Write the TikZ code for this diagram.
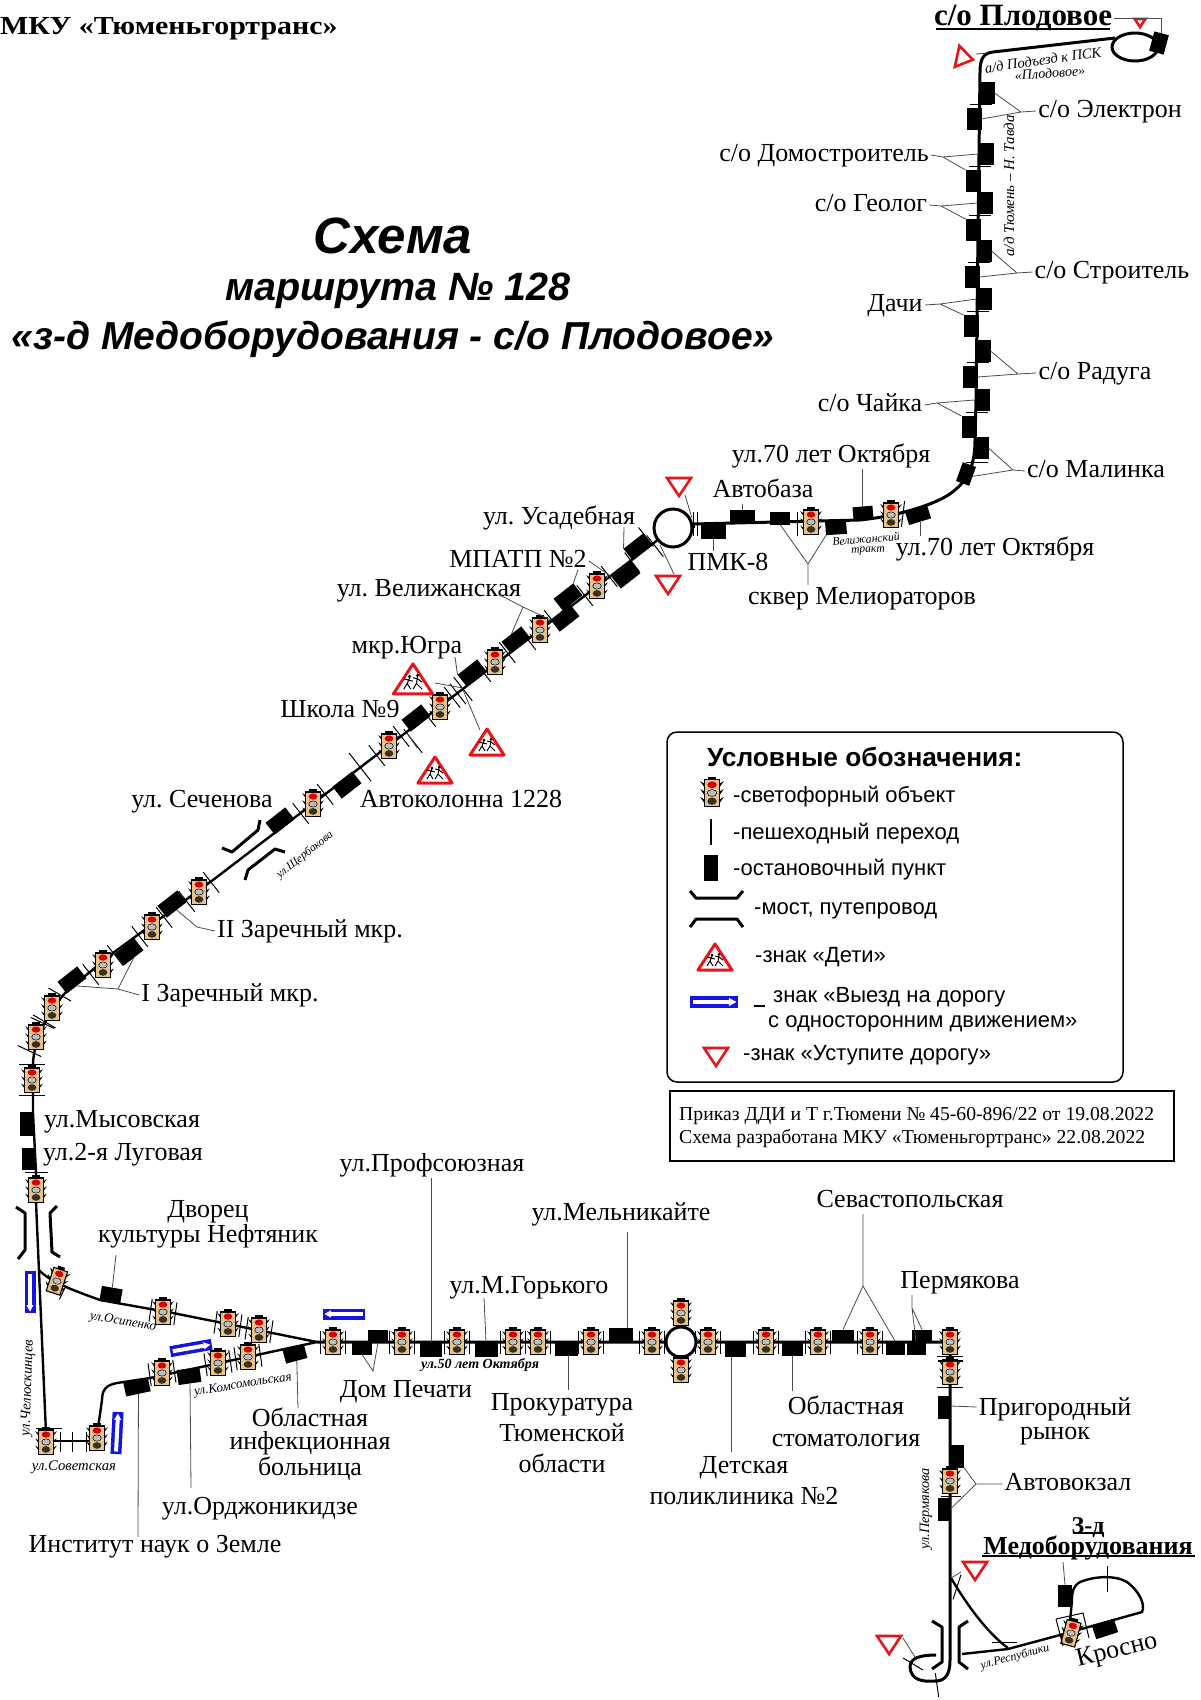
\documentclass[tikz,border=0pt]{standalone}
\usepackage{fontspec}
\setmainfont{Liberation Serif}
\setsansfont{Liberation Sans}
\frenchspacing
\definecolor{tlbody}{HTML}{E6C28C}
\definecolor{lampgrey}{HTML}{B9BEC4}
\definecolor{lampdark}{HTML}{3A3020}
\definecolor{signred}{HTML}{E8141C}
\definecolor{signblue}{HTML}{1414E0}
\tikzset{
  road/.style={line width=3,line join=round},
  thinroad/.style={line width=2.4,line join=round},
  tick/.style={line width=1},
  bridge/.style={line width=3,line join=round},
  leader/.style={line width=.8,black!70},
  stopbox/.style={fill=black,inner sep=0,outer sep=0},
  lab/.style={font=\fontsize{26}{28}\selectfont,inner sep=2pt,text height=17,text depth=5},
  mlab/.style={inner sep=2pt,align=center},
  legtext/.style={font=\sffamily\fontsize{22}{26}\selectfont,anchor=west,inner sep=0,text height=15,text depth=5},
  tlplain/.pic={
    \begin{scope}[scale=1.2]
    \fill (-9,-9) -- (-5.5,-7) -- (-5.5,-4) -- cycle;
    \fill (9,-9) -- (5.5,-7) -- (5.5,-4) -- cycle;
    \fill (-9,-3) -- (-5.5,-1) -- (-5.5,2) -- cycle;
    \fill (9,-3) -- (5.5,-1) -- (5.5,2) -- cycle;
    \fill (-9,3) -- (-5.5,5) -- (-5.5,8) -- cycle;
    \fill (9,3) -- (5.5,5) -- (5.5,8) -- cycle;
    \fill (-3,-12.5) rectangle (3,-9);
    \draw[fill=tlbody,line width=1.1] (-6,-10) rectangle (6,10.5);
    \fill[red!85!black] (0,-6.2) ellipse [x radius=3.6pt,y radius=2.6pt];
    \fill[lampgrey] (0,0) ellipse [x radius=3.6pt,y radius=2.6pt];
    \draw[line width=.5] (0,0) ellipse [x radius=3.6pt,y radius=2.6pt];
    \fill[lampdark] (0,6.2) ellipse [x radius=3.6pt,y radius=2.8pt];
    \end{scope}
  },
  tla/.pic={
    \pic {tlplain};
    \draw[tick] (-13,-15.5) -- (13,-15.5);
    \draw[tick] (-13,15.5) -- (13,15.5);
  },
  tlb/.pic={
    \pic {tlplain};
    \draw[tick] (-12.5,-11.5) -- (-12.5,11.5);
    \draw[tick] (12.5,-11.5) -- (12.5,11.5);
  },
  yieldsign/.pic={
    \draw[signred,line width=2.6,fill=white,line join=miter] (-12,-9) -- (12,-9) -- (0,9) -- cycle;
  },
  childsign/.pic={
    \draw[signred,line width=3,fill=white,line join=round] (0,-14) -- (17,12) -- (-17,12) -- cycle;
    \fill (-3,-3) circle [radius=1.5pt];
    \fill (4,-4) circle [radius=1.5pt];
    \draw[line width=1] (-3,-2) -- (-5,3) -- (-8,8) (-5,3) -- (-2,8) (-4,0) -- (-8,-1) (-4,0) -- (0,1);
    \draw[line width=1] (4,-3) -- (3,3) -- (0,8) (3,3) -- (8,8) (4,-1) -- (0,-2) (4,-1) -- (8,2);
  },
  onewaysign/.pic={
    \fill[signblue] (-21,-5.5) rectangle (21,5.5);
    \fill[white] (-18.5,-2) rectangle (13,2);
    \fill[white] (13,-3.6) -- (19.5,0) -- (13,3.6) -- cycle;
  }
}
\newcommand\mkStop[6]{\node[stopbox,minimum width=#4pt,minimum height=#5pt,rotate=#6] (#1) at (#2,#3) {};}
\newcommand\mkTick[4]{\draw[tick,shift={(#1,#2)},rotate=#3] (-#4/2,0) -- (#4/2,0);}
\newcommand\mkLabel[4]{\node[lab] (#1) at (#2,#3) {#4};}
\newcommand\mkMulti[5]{\node[mlab,font=\fontsize{26}{#4}\selectfont] (#1) at (#2,#3) {#5};}
\newcommand\mkRoad[6]{\node[inner sep=0,font=\fontsize{#6}{#6}\selectfont\itshape,rotate=#4] (#1) at (#2,#3) {#5};}
\begin{document}
\begin{tikzpicture}[x=1pt,y=-1pt]
\useasboundingbox (0,0) rectangle (1200,1700);
\fill[white] (0,0) rectangle (1200,1700);

% --- junctions and rings
\coordinate (jK) at (317,1342);
\coordinate (jTop) at (1115,38);
\node[circle,draw,line width=3,minimum size=38,inner sep=0,fill=white] (ringA) at (673,528) {};

% --- roads
\draw[road] (jTop) -- (993,52) .. controls (984,53) and (980,58) .. (980,72) -- (976,400) -- (975,440) .. controls (975,470) and (965,485) .. (945,497) .. controls (925,508) and (890,517) .. (860,520) -- (693,524) -- (ringA.east);
\draw[thinroad] (ringA.218) -- (213,880) -- (113,953) -- (68,990) .. controls (50,1008) and (33,1040) .. (33,1065) -- (33,1113) -- (36,1172) -- (36,1190);
\draw[thinroad] (36,1202) -- (46,1433);
\draw[thinroad] (39,1270) .. controls (50,1282) and (75,1291) .. (100,1300) -- (173,1313) -- (jK);
\draw[thinroad] (jK) -- (150,1378) -- (117,1383) .. controls (106,1385) and (102,1390) .. (102,1400) -- (98,1428);
\draw[thinroad] (47,1441) -- (97,1441);
\draw[road] (jK) -- (950,1342) -- (950,1660) .. controls (950,1675) and (945,1681) .. (935,1681) .. controls (922,1682) and (911,1680) .. (910,1667) .. controls (910,1658) and (920,1655) .. (936,1655);
\draw[thinroad] (951,1578) .. controls (970,1610) and (990,1635) .. (1008,1648);
\draw[thinroad] (962,1654) -- (1008,1649) -- (1060,1635) -- (1142,1612) .. controls (1146,1604) and (1138,1590) .. (1127,1582) .. controls (1115,1575) and (1095,1576) .. (1080,1582) .. controls (1073,1586) and (1072,1592) .. (1072,1600) -- (1070,1622);
\draw[road] (1135,47) ellipse [x radius=23pt,y radius=14pt];
\node[circle,draw,line width=3,minimum size=30,inner sep=0,fill=white] (ringB) at (681,1342) {};

% --- bridges
\draw[bridge] (222,848) -- (232,852) -- (258,830) -- (260,820);
\draw[bridge] (245,880) -- (248,870) -- (275,849) -- (285,852);
\draw[bridge] (16,1207) -- (25,1213) -- (25,1250) -- (18,1259);
\draw[bridge] (57,1206) -- (50,1213) -- (52,1252) -- (60,1257);
\draw[bridge] (932,1621) -- (942,1627) -- (942,1662) -- (932,1669);
\draw[bridge] (968,1621) -- (959,1627) -- (959,1662) -- (968,1669);

% --- stops: upper section
\mkStop{sPl}{1159}{43}{15}{20}{-15}
\mkStop{sA}{987}{93}{15}{22}{0}
\mkStop{sB}{974}{119}{15}{22}{0}
\mkStop{sC}{986}{154}{15}{22}{0}
\mkStop{sD}{973}{181}{15}{22}{0}
\mkStop{sE}{985}{203}{15}{22}{0}
\mkStop{sF}{973}{230}{15}{22}{0}
\mkStop{sG}{984}{251}{15}{22}{0}
\mkStop{sH}{972}{277}{15}{22}{0}
\mkStop{sI}{984}{299}{15}{22}{0}
\mkStop{sJ}{971}{326}{15}{22}{0}
\mkStop{sK}{983}{351}{15}{22}{0}
\mkStop{sL}{970}{377}{15}{22}{0}
\mkStop{sM}{982}{400}{15}{22}{0}
\mkStop{sN}{969}{427}{15}{22}{0}
\mkStop{sO}{981}{448}{15}{22}{0}
\mkStop{sP}{966}{474}{14}{20}{-20}
\foreach \yy/\xx in {104/981,166/980,215/980,262/979,311/978,362/978,412/977,462/977}{\mkTick{\xx}{\yy}{0}{22}}
% --- stops: eastern tract
\mkStop{tA}{713}{531}{25}{15}{0}
\mkStop{tB}{742}{517}{25}{14}{0}
\mkStop{tC}{780}{518}{20}{13}{0}
\mkStop{tD}{836}{528}{21}{13}{4}
\mkStop{tE}{863}{513}{20}{13}{5}
\mkStop{tF}{918}{515}{23}{14}{17}
\mkTick{697}{524}{90}{24}
\mkTick{693}{524}{90}{24}
\mkTick{797}{524}{90}{24}
\mkTick{903}{514}{83}{26}
\pic at (811,522) {tlplain};
\pic at (891,515) {tlplain};
% --- diagonal
\mkStop{dA}{638}{547}{25}{15}{38}
\mkStop{dB}{626}{575}{25}{15}{38}
\mkStop{dC}{568}{597}{25}{15}{38}
\mkStop{dD}{565}{618}{25}{15}{38}
\mkStop{dE}{516}{640}{25}{15}{38}
\mkStop{dF}{472}{673}{25}{15}{38}
\mkStop{dG}{416}{718}{25}{15}{38}
\mkStop{dH}{347}{785}{25}{15}{38}
\mkStop{dI}{280}{821}{25}{15}{38}
\mkStop{dJ}{172}{904}{25}{15}{38}
\mkStop{dK}{129}{952}{25}{15}{38}
\mkStop{dL}{72}{980}{25}{15}{38}
\foreach \xx/\yy in {597/586,540/630,495/662,440/707,389/746,313/804,199/892,152/927,103/965}{\pic[rotate=-52] at (\xx,\yy) {tla};}
\pic[rotate=-30] at (52,1008) {tla};
\pic[rotate=-25] at (36,1037) {tla};
\pic at (32,1080) {tla};
\mkTick{655}{546}{-52}{27}
\mkTick{646}{537}{-52}{24}
\mkTick{632}{562}{-52}{24}
\mkTick{463}{689}{-52}{30}
\mkTick{458}{694}{-52}{26}
\mkTick{413}{741}{-52}{30}
\mkTick{360}{767}{-52}{36}
\mkStop{dM}{27}{1124}{14}{24}{0}
\mkStop{dN}{29}{1159}{14}{22}{0}
\mkTick{36}{1172}{0}{23}
\pic at (36,1190) {tlplain};
% --- south-west loop
\mkStop{wA}{111}{1295}{21}{15}{-10}
\mkStop{wB}{137}{1387}{25}{14}{12}
\mkStop{wC}{189}{1376}{23}{15}{8}
\mkStop{wD}{295}{1354}{22}{14}{15}
\pic[rotate=-18] at (57,1281) {tlplain};
\mkTick{62}{1294}{65}{12}
\foreach \xx/\yy in {163/1312,228/1324,259/1330}{\pic[rotate=-8] at (\xx,\yy) {tlb};}
\foreach \xx/\yy in {248/1357,218/1363,162/1373}{\pic[rotate=8] at (\xx,\yy) {tlb};}
\pic at (97,1438) {tlplain};
\pic at (46,1442) {tlplain};
\mkTick{49}{1428}{0}{26}
\foreach \xx in {60,72,86}{\mkTick{\xx}{1442}{90}{20}}
% --- main street
\mkStop{mA}{362}{1348}{20}{13}{0}
\mkStop{mB}{378}{1336}{20}{13}{0}
\mkStop{mC}{431}{1349}{22}{15}{0}
\mkStop{mD}{486}{1349}{23}{15}{0}
\mkStop{mE}{566}{1348}{23}{15}{0}
\mkStop{mF}{621}{1335}{24}{15}{0}
\mkStop{mG}{735}{1349}{21}{15}{0}
\mkStop{mH}{792}{1348}{21}{15}{0}
\mkStop{mI}{843}{1336}{22}{13}{0}
\mkStop{mJ}{895}{1348}{19}{14}{0}
\mkStop{mK}{916}{1348}{19}{14}{0}
\mkStop{mL}{922}{1336}{20}{13}{0}
\foreach \xx in {333,402,457,513,538,591,652,708,766,818,870}{\pic at (\xx,1342) {tlb};}
\pic at (681,1313) {tlplain};
\pic at (681,1370) {tlplain};
\pic at (950,1342) {tlplain};
\pic at (950,1372) {tla};
\draw[line width=2] (938,1361) -- (963,1361);
\mkStop{nA}{944}{1407}{13}{23}{0}
\mkStop{nB}{957}{1456}{14}{23}{0}
\mkStop{nC}{944}{1509}{13}{23}{0}
\pic at (950,1481) {tlplain};
\mkTick{951}{1496}{0}{20}
\mkTick{957}{1587}{72}{26}
\mkTick{1004}{1642}{0}{25}
\mkTick{913}{1664}{-31}{23}
\mkTick{937}{1685}{-82}{24}
% --- terminal
\mkStop{eA}{1065}{1596}{14}{22}{0}
\mkStop{eB}{1105}{1629}{23}{14}{18}
\pic[rotate=-15] at (1071,1633) {tlplain};
\draw[tick] (1056,1619) -- (1083,1613) -- (1089,1638);
\draw[tick] (1056,1619) -- (1063,1646);
\mkTick{1107}{1579}{90}{26}

% --- one-way signs
\pic[rotate=-90] at (30,1292) {onewaysign};
\pic[rotate=180] at (344,1314) {onewaysign};
\pic[rotate=10] at (191,1348) {onewaysign};
\pic[rotate=87] at (117,1433) {onewaysign};

% --- yield signs
\pic[scale=.45] at (1140,23) {yieldsign};
\pic[rotate=78,scale=.9] at (965,58) {yieldsign};
\pic at (679,487) {yieldsign};
\pic at (668,585) {yieldsign};
\pic at (975,1571) {yieldsign};
\pic at (889,1645) {yieldsign};
\coordinate (yA) at (976,54);
\coordinate (yB) at (685,495);
\coordinate (yC) at (674,574);
\coordinate (yD) at (961,1572);
\coordinate (yE) at (903,1638);
\coordinate (rA) at (988,53);
\coordinate (rB) at (692,518);
\coordinate (rC) at (660,545);
\coordinate (rD) at (951,1578);
\coordinate (rE) at (915,1657);

% --- children signs
\pic[scale=1.15] at (413,680) {childsign};
\pic at (487,743) {childsign};
\pic at (435,771) {childsign};
\coordinate (cA) at (435,683);
\coordinate (cB) at (480,730);
\coordinate (cC) at (417,748);
\coordinate (cAr) at (463,688);
\coordinate (cBr) at (463,690);
\coordinate (cCr) at (407,733);

% --- labels
\node[font=\bfseries\fontsize{31}{34}\selectfont,inner sep=2pt,text height=20,text depth=6] (lPlod) at (1023,18) {с/о Плодовое};
\draw[line width=1.6] (936,29) -- (1110,29);
\node[font=\bfseries\fontsize{26}{28}\selectfont,anchor=west,inner sep=0,xscale=1.15,transform shape] (lOrg) at (0,29) {МКУ «Тюменьгортранс»};
\node[font=\sffamily\bfseries\itshape\fontsize{51}{54}\selectfont,inner sep=0] (lT1) at (393,236) {Схема};
\node[font=\sffamily\bfseries\itshape\fontsize{39.5}{42}\selectfont,inner sep=0] (lT2) at (398,291) {маршрута № 128};
\node[font=\sffamily\bfseries\itshape\fontsize{39}{42}\selectfont,inner sep=0] (lT3) at (393,339) {«з-д Медоборудования - с/о Плодовое»};

\mkLabel{lEl}{1110}{111}{с/о Электрон}
\mkLabel{lDom}{824}{155}{с/о Домостроитель}
\mkLabel{lGeo}{871}{205}{с/о Геолог}
\mkLabel{lStr}{1112}{272}{с/о Строитель}
\mkLabel{lDa}{895}{305}{Дачи}
\mkLabel{lRad}{1095}{373}{с/о Радуга}
\mkLabel{lCh}{870}{405}{с/о Чайка}
\mkLabel{lMal}{1096}{471}{с/о Малинка}
\mkLabel{lOkU}{831}{456}{ул.70 лет Октября}
\mkLabel{lAvb}{763}{491}{Автобаза}
\mkLabel{lPmk}{728}{564}{ПМК-8}
\mkLabel{lOkD}{995}{549}{ул.70 лет Октября}
\mkLabel{lSkv}{862}{598}{сквер Мелиораторов}
\mkLabel{lUsa}{559}{518}{ул. Усадебная}
\mkLabel{lMp}{518}{561}{МПАТП №2}
\mkLabel{lVel}{429}{590}{ул. Велижанская}
\mkLabel{lYug}{407}{647}{мкр.Югра}
\mkLabel{lSh}{340}{711}{Школа №9}
\mkLabel{lAk}{461}{801}{Автоколонна 1228}
\mkLabel{lSe}{202}{801}{ул. Сеченова}
\mkLabel{lZ2}{310}{931}{II Заречный мкр.}
\mkLabel{lZ1}{230}{995}{I Заречный мкр.}
\mkLabel{lMy}{122}{1121}{ул.Мысовская}
\mkLabel{lLu}{123}{1154}{ул.2-я Луговая}
\mkMulti{lDv}{208}{1224}{22}{Дворец\\культуры Нефтяник}
\mkMulti{lOi}{310}{1444}{23.5}{Областная\\инфекционная\\больница}
\mkLabel{lOr}{260}{1508}{ул.Орджоникидзе}
\mkLabel{lIn}{155}{1546}{Институт наук о Земле}
\mkLabel{lDp}{406}{1391}{Дом Печати}
\mkLabel{lPr}{432}{1165}{ул.Профсоюзная}
\mkLabel{lGo}{529}{1287}{ул.М.Горького}
\mkLabel{lMe}{621}{1214}{ул.Мельникайте}
\mkMulti{lPk}{562}{1433}{31}{Прокуратура\\Тюменской\\области}
\mkMulti{lDe}{744}{1481}{31}{Детская\\поликлиника №2}
\mkMulti{lOs}{846}{1421}{32}{Областная\\стоматология}
\mkLabel{lSv}{910}{1201}{Севастопольская}
\mkLabel{lPe}{960}{1282}{Пермякова}
\mkMulti{lPg}{1055}{1421}{24}{Пригородный\\рынок}
\mkLabel{lAv}{1068}{1484}{Автовокзал}
\node[font=\bfseries\fontsize{24}{26}\selectfont,inner sep=0] (lZd) at (1088,1528) {З-д};
\draw[line width=1.4] (1073,1533) -- (1104,1533);
\node[font=\bfseries\fontsize{26}{28}\selectfont,inner sep=0] (lMb) at (1088,1548) {Медоборудования};
\draw[line width=1.4] (982,1556) -- (1195,1556);
\node[lab,rotate=14] (lKr) at (1117,1651) {Кросно};

% --- road names
\mkRoad{nPs}{1043}{60}{8}{а/д Подъезд к ПСК}{14.5}
\mkRoad{nPp}{1050}{73}{4}{«Плодовое»}{14}
\mkRoad{nTa}{1009}{186}{90}{а/д Тюмень – Н. Тавда}{15}
\mkRoad{nV1}{866}{539}{5}{Велижанский}{11.6}
\mkRoad{nV2}{868}{551}{3}{тракт}{11.6}
\mkRoad{nSc}{305}{855}{38}{ул.Щербакова}{11.5}
\mkRoad{nOs}{123}{1322}{-9}{ул.Осипенко}{13}
\mkRoad{nKo}{243}{1385}{9}{ул.Комсомольская}{13}
\mkRoad{nCh}{28}{1388}{88}{ул.Челюскинцев}{14.5}
\mkRoad{nSo}{74}{1467}{0}{ул.Советская}{14.7}
\node[inner sep=0,font=\bfseries\itshape\fontsize{14}{15}\selectfont] (n50) at (480,1365) {ул.50 лет Октября};
\mkRoad{nPm}{926}{1509}{90}{ул.Пермякова}{14.3}
\mkRoad{nRe}{1015}{1657}{15}{ул.Республики}{12}

% --- leaders
\coordinate (jEl) at (1021,112);
\draw[leader] (lEl.west) -- (jEl) -- (sA.east) (jEl) -- (sB.east);
\coordinate (jDo) at (943,157);
\draw[leader] (lDom.east) -- (jDo) -- (sC.west) (jDo) -- (sD.north west);
\coordinate (jGe) at (941,206);
\draw[leader] (lGeo.east) -- (jGe) -- (sE.west) (jGe) -- (sF.north west);
\coordinate (jSt) at (1017,273);
\draw[leader] (lStr.west) -- (jSt) -- (sG.east) (jSt) -- (sH.east);
\coordinate (jDa) at (940,304);
\draw[leader] (lDa.east) -- (jDa) -- (sI.west) (jDa) -- (sJ.north west);
\coordinate (jRa) at (1018,374);
\draw[leader] (lRad.west) -- (jRa) -- (sK.east) (jRa) -- (sL.east);
\coordinate (jCh) at (937,403);
\draw[leader] (lCh.east) -- (jCh) -- (sM.west) (jCh) -- (sN.north west);
\coordinate (jMa) at (1013,470);
\draw[leader] (lMal.west) -- (jMa) -- (sO.east) (jMa) -- (sP.east);
\draw[black!70,line width=.8] (lPlod.east) -| (sPl.north);
\draw[leader] (yA) -- (rA) (yB) -- (rB) (yC) -- (rC) (yD) -- (rD) (yE) -- (rE);
\draw[leader] (cA) -- (cAr) (cB) -- (cBr) (cC) -- (cCr);
\draw[leader] (lOkU.south -| tE.north) -- (tE.north);
\draw[leader] (lAvb.south -| tB.north) -- (tB.north);
\draw[leader] (lPmk.north -| tA.south) -- (tA.south);
\draw[leader] (lOkD.north -| tF.south) -- (tF.south);
\coordinate (jSk) at (808,564);
\draw[leader] (lSkv.north -| jSk) -- (jSk) -- (tC.south) (jSk) -- (tD.south west);
\draw[leader] (624,527) -- (dA.north west);
\draw[leader] (578,570) -- (dC.north east);
\draw[leader] (lMp.east) -- (dB.north west);
\coordinate (jVe) at (523,607);
\draw[leader] (500,595) -- (jVe) -- (dE.north) (jVe) -- (dD.north west);
\draw[leader] (455,657) -- (dF.north west);
\draw[leader] (lZ2.west) -- (197,927) -- (dJ.south);
\coordinate (jZ1) at (118,989);
\draw[leader] (lZ1.west) -- (jZ1) -- (dL.south) (jZ1) -- (dK.south);
\draw[leader] (116,1255) -- (wA.north);
\draw[leader] (298,1408) -- (wD.south);
\draw[leader] (191,1488) -- (wC.south);
\draw[leader] (138,1537) -- (wB.south);
\coordinate (jDp) at (373,1371);
\draw[leader] (mA.south) -- (jDp) -- (mB.south);
\draw[leader] (lPr.south -| mC.north) -- (mC.north);
\draw[leader] (484,1298) -- (mD.north);
\draw[leader] (627,1232) -- (627,1328);
\draw[leader] (568,1390) -- (568,1355);
\draw[leader] (731,1452) -- (731,1357);
\draw[leader] (792,1391) -- (mH.south);
\coordinate (jSv) at (863,1286);
\draw[leader] (lSv.south -| jSv) -- (jSv) -- (mI.north) (jSv) -- (mJ.north);
\coordinate (jPe) at (912,1308);
\draw[leader] (912,1295) -- (jPe) -- (mK.north) (jPe) -- (mL.north);
\draw[leader] (951,1406) -- (lPg.west |- nA);
\coordinate (jAv) at (976,1484);
\draw[leader] (lAv.west) -- (jAv) -- (nB.south east) (jAv) -- (nC.east);
\draw[leader] (1063,1562) -- (eA.north);

% --- legend
\draw[line width=1.5,rounded corners=10,fill=white] (667,732) rectangle (1123,1082);
\node[font=\sffamily\bfseries\fontsize{26.3}{30}\selectfont,anchor=west,inner sep=0] (lgT) at (707,757) {Условные обозначения:};
\pic[scale=1.1] at (712,793) {tlplain};
\node[legtext] (lg1) at (733,797) {-светофорный объект};
\draw[line width=1.2] (711,819) -- (711,845);
\node[legtext] (lg2) at (733,834) {-пешеходный переход};
\fill (704,855) rectangle (718,881);
\node[legtext] (lg3) at (733,870) {-остановочный пункт};
\draw[bridge] (690,891) -- (696,898) -- (737,898) -- (743,891);
\draw[bridge] (690,927) -- (696,919) -- (737,919) -- (743,927);
\node[legtext] (lg4) at (754,909) {-мост, путепровод};
\pic at (715,958) {childsign};
\node[legtext] (lg5) at (755,957) {-знак «Дети»};
\pic[scale=1.15] at (714,1002) {onewaysign};
\draw[line width=1.2] (754,1006) -- (765,1006);
\node[legtext] (lg6) at (773,997) {знак «Выезд на дорогу};
\node[legtext] (lg7) at (768,1022) {с односторонним движением»};
\pic at (716,1057) {yieldsign};
\node[legtext] (lg8) at (743,1055) {-знак «Уступите дорогу»};
% --- order box
\draw[line width=1.1] (670,1091) rectangle (1174,1161);
\node[font=\fontsize{19.7}{23}\selectfont,anchor=west,inner sep=0] (lb1) at (679,1116) {Приказ ДДИ и Т г.Тюмени № 45-60-896/22 от 19.08.2022};
\node[font=\fontsize{19.7}{23}\selectfont,anchor=west,inner sep=0] (lb2) at (679,1139) {Схема разработана МКУ «Тюменьгортранс» 22.08.2022};
\end{tikzpicture}
\end{document}
